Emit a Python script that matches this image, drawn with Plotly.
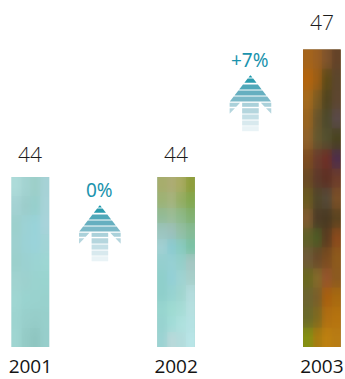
import base64
import struct
import zlib

import numpy as np
import plotly.graph_objects as go

# Sales by year, drawn on an axis that starts at 40
years = ["2001", "2002", "2003"]
values = [44, 44, 47]
changes = ["0%", "+7%"]
axis_floor = 40

# Photographic fill of each column, top row first, four swatches per row
fill_2001 = [
    ["#addbd9", "#a3d3d1", "#9dcfc9", "#a6d2d6"],
    ["#a4d2d3", "#9ccdcb", "#97cfcc", "#a7d3d8"],
    ["#9cd0cd", "#9cd2d5", "#99d3d9", "#a8d3da"],
    ["#9dd0cf", "#9bd2d6", "#9ad3da", "#a1d4d6"],
    ["#9bd0cc", "#9bd1d1", "#9bd4d3", "#9dd6d3"],
    ["#a0d3d0", "#9dd1ce", "#9ad3cf", "#99d4cf"],
    ["#9fd6d2", "#99d3cf", "#99d2ce", "#98d1cd"],
    ["#9dd4d0", "#98cfcb", "#96cdc9", "#97cfcb"],
    ["#9fd5d1", "#94cbc6", "#8fc6c1", "#97cecb"],
]
fill_2002 = [
    ["#a7ad6d", "#adac74", "#a8ab62", "#8f9e3d"],
    ["#9db376", "#a5b47e", "#95ae64", "#84a850"],
    ["#93bb96", "#9bbd97", "#8eb988", "#82b172"],
    ["#9cc5bf", "#9cc1bb", "#93bfa5", "#86bb96"],
    ["#a1d0d3", "#8ccbd0", "#89cbc0", "#7cc2a6"],
    ["#95cfcf", "#96d0d3", "#95cfca", "#a5c7c3"],
    ["#8fcfcb", "#94d0d6", "#9fd3d2", "#a7cfca"],
    ["#8fcfcb", "#97d3d1", "#a0d5cf", "#b4dcdd"],
    ["#97d5cf", "#9fdbd2", "#a6dcd6", "#b6e0e0"],
    ["#98d3d0", "#a2dcd8", "#aee1de", "#b5e2e3"],
    ["#9cd3d3", "#b9d9da", "#b3dcdc", "#b9e5e7"],
]
fill_2003 = [
    ["#a5641b", "#9a5f22", "#80542c", "#644328"],
    ["#b3640e", "#9c5e15", "#5f4b17", "#5c462c"],
    ["#a56a1c", "#7d5c22", "#52451f", "#5d4630"],
    ["#986420", "#69552b", "#4e4a2c", "#5a4a48"],
    ["#90622a", "#66582e", "#54502f", "#4a4420"],
    ["#7d4c20", "#6c3c2c", "#6e3027", "#4f2f4a"],
    ["#6b4a24", "#5e3a2a", "#5e3124", "#6d3d2b"],
    ["#6a5a20", "#52482a", "#564a38", "#7a5028"],
    ["#7f5a30", "#4e3c26", "#4a3a22", "#5c4420"],
    ["#5f6028", "#4f5a25", "#5b3d20", "#8a4a1c"],
    ["#6f5a38", "#6a4a2a", "#7a4c20", "#8d5a1c"],
    ["#6a6820", "#846a2a", "#95552c", "#8c5a20"],
    ["#6c6430", "#7a5f2a", "#a8600f", "#a86a10"],
    ["#6a6a2a", "#7f6a20", "#b06f12", "#b5730f"],
    ["#859012", "#a87c10", "#bd8010", "#b87c14"],
]
fills = [fill_2001, fill_2002, fill_2003]

# Arrow bands from tip to tail: top and bottom in pixels below the tip, colour
arrow_bands = [
    (0.5, 2.5, "#1a97ab"),
    (3.5, 7.8, "#2c9cae"),
    (9.5, 14.5, "#50a8b9"),
    (15.5, 20.5, "#66afc0"),
    (21.5, 26.5, "#7cb9c8"),
    (27.8, 31.8, "#aad1da"),
    (33.2, 38.5, "#b5d6de"),
    (39.5, 44.5, "#c4dfe6"),
    (45.5, 50.5, "#d8e9ee"),
    (51.2, 56.2, "#e9f3f6"),
]
ARROW_HALF = 20.8
SHAFT_HALF = 8.3
HEAD_LENGTH = 26.7

BAR_WIDTH = 0.258
TEXT = "#1c1c1c"
TEAL = "#1b93ad"


def hex_rgb(code):
    return [int(code[i:i + 2], 16) for i in (1, 3, 5)]


def fill_png(rows, width=38, height=170, softness=0.7):
    """Soften a swatch grid to full size and return it as a PNG data URI."""
    grid = np.array([[hex_rgb(c) for c in row] for row in rows], dtype=float)
    nr, nc = grid.shape[:2]
    ry = np.clip((np.arange(height) + 0.5) / height * nr - 0.5, 0, nr - 1)
    rx = np.clip((np.arange(width) + 0.5) / width * nc - 0.5, 0, nc - 1)
    y0 = np.floor(ry).astype(int)
    x0 = np.floor(rx).astype(int)
    y1 = np.minimum(y0 + 1, nr - 1)
    x1 = np.minimum(x0 + 1, nc - 1)
    fy = (ry - y0)[:, None, None]
    fx = (rx - x0)[None, :, None]
    smooth = (
        grid[y0][:, x0] * (1 - fy) * (1 - fx)
        + grid[y0][:, x1] * (1 - fy) * fx
        + grid[y1][:, x0] * fy * (1 - fx)
        + grid[y1][:, x1] * fy * fx
    )
    # Part of the blocky swatch structure is kept on top of the smooth ramp
    blocks = grid[np.round(ry).astype(int)][:, np.round(rx).astype(int)]
    img = (softness * smooth + (1 - softness) * blocks).round().astype(np.uint8)
    raw = b"".join(b"\x00" + line.tobytes() for line in img)

    def chunk(tag, body):
        return (struct.pack(">I", len(body)) + tag + body
                + struct.pack(">I", zlib.crc32(tag + body) & 0xFFFFFFFF))

    png = (b"\x89PNG\r\n\x1a\n"
           + chunk(b"IHDR", struct.pack(">IIBBBBB", width, height, 8, 2, 0, 0, 0))
           + chunk(b"IDAT", zlib.compress(raw))
           + chunk(b"IEND", b""))
    return "data:image/png;base64," + base64.b64encode(png).decode()


def band_paths(top, bottom):
    """Pixel paths for one arrow band; y runs upward from the arrow tip."""
    paths = []
    if bottom <= HEAD_LENGTH:
        t = ARROW_HALF * top / HEAD_LENGTH
        b = ARROW_HALF * bottom / HEAD_LENGTH
        paths.append(f"M{-t},{-top}L{t},{-top}L{b},{-bottom}L{-b},{-bottom}Z")
        return paths
    paths.append(
        f"M{-SHAFT_HALF},{-top}L{SHAFT_HALF},{-top}L{SHAFT_HALF},{-bottom}L{-SHAFT_HALF},{-bottom}Z"
    )
    # The barbs of the head are cut on a diagonal and taper out to the edge
    barb_end = HEAD_LENGTH + 12.0
    if top < barb_end:
        gap = SHAFT_HALF + 1.0
        span = ARROW_HALF - gap

        def inner(y):
            return gap + span * (y - HEAD_LENGTH) / (barb_end - HEAD_LENGTH)

        low = min(bottom, barb_end)
        for s in (-1, 1):
            paths.append(
                f"M{s * ARROW_HALF},{-top}L{s * inner(top)},{-top}"
                f"L{s * inner(low)},{-low}L{s * ARROW_HALF},{-low}Z"
            )
    return paths


fig = go.Figure()

# Columns; the axis floor crops them so only the part above 40 shows
fig.add_trace(go.Bar(
    x=[0, 1, 2], y=values, width=BAR_WIDTH,
    marker=dict(color=["#9dd1ce", "#9cc9bb", "#75531f"], line_width=0),
    hoverinfo="x+y",
))

# Texture laid over each column, sized from the same value
images = []
for pos, value, rows in zip(range(3), values, fills):
    images.append(dict(
        source=fill_png(rows), xref="x", yref="y",
        x=pos - BAR_WIDTH / 2, y=value,
        sizex=BAR_WIDTH, sizey=value - axis_floor,
        sizing="stretch", xanchor="left", yanchor="top", layer="above",
    ))

# Value labels above the columns
value_gaps = [23.5, 23.5, 27.5]
for pos, value, gap in zip(range(3), values, value_gaps):
    fig.add_annotation(
        x=pos, y=value, yshift=gap, showarrow=False,
        text=str(value),
        font=dict(family="Open Sans", size=21, color=TEXT, weight=300),
        yanchor="middle",
    )

# Change arrows between neighbouring columns, with their captions
arrow_x = [0.477, 1.51]
arrow_tip = [43.34, 46.4]
shapes = []
for ax, tip, change in zip(arrow_x, arrow_tip, changes):
    for top, bottom, colour in arrow_bands:
        for path in band_paths(top, bottom):
            shapes.append(dict(
                type="path", path=path, fillcolor=colour, line_width=0,
                xref="x", yref="y", xsizemode="pixel", ysizemode="pixel",
                xanchor=ax, yanchor=tip,
            ))
    fig.add_annotation(
        x=ax, y=tip, yshift=15, showarrow=False, text=change,
        font=dict(family="Noto Sans", size=19, color=TEAL, weight=400),
        yanchor="middle",
    )

fig.update_layout(
    width=345, height=379, autosize=False,
    margin=dict(l=0, r=0, t=0, b=32),
    paper_bgcolor="white", plot_bgcolor="white",
    showlegend=False, shapes=shapes, images=images,
)
fig.update_xaxes(
    range=[-0.2084, 2.1588], tickmode="array", tickvals=[0, 1, 2], ticktext=years,
    tickangle=0, showgrid=False, zeroline=False, showline=False, ticks="",
    tickfont=dict(family="Open Sans", size=19, color="#141414"),
    ticklabelstandoff=6, fixedrange=True,
)
fig.update_yaxes(
    range=[axis_floor, 48.165], autorange=False, visible=False, fixedrange=True,
)

fig.write_html("out.html")
